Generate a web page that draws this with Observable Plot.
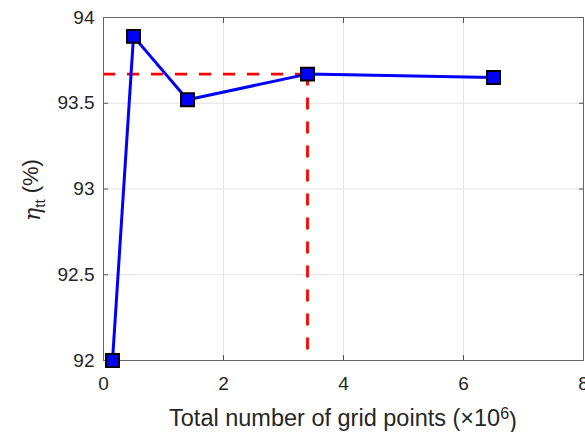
<!DOCTYPE html>
<html>
<head>
<meta charset="utf-8">
<script src="https://cdn.jsdelivr.net/npm/d3@7"></script>
<script src="https://cdn.jsdelivr.net/npm/@observablehq/plot@0.6"></script>
<style>
  html, body { margin: 0; padding: 0; background: #fff; }
  #chart { width: 585px; height: 432px; }
  svg { font-family: "Liberation Sans", Arial, Helvetica, sans-serif; }
</style>
</head>
<body>
<div id="chart"></div>
<script>
// Data
const gridPoints = [0.15, 0.5, 1.4, 3.4, 6.5];          // ×10^6
const efficiency = [92.0, 93.89, 93.52, 93.67, 93.65];   // eta_tt (%)
const xTicks = [0, 2, 4, 6, 8];
const yTicks = [92, 92.5, 93, 93.5, 94];
const yTickLabels = ["92", "92.5", "93", "93.5", "94"];
const selectedX = 3.4;
const selectedY = 93.67;

const data = gridPoints.map((x, i) => ({x, y: efficiency[i]}));
const textColor = "#262626";

const W = 585, H = 432;
const mL = 103, mR = 2, mT = 17, mB = 72;

const plot = Plot.plot({
  width: W,
  height: H,
  marginLeft: mL,
  marginRight: mR,
  marginTop: mT,
  marginBottom: mB,
  style: {fontSize: "19px", color: textColor, fontFamily: "'Liberation Sans', Arial, Helvetica, sans-serif", background: "#fff", overflow: "visible"},
  x: {domain: [0, 8]},
  y: {domain: [92, 94]},
  marks: [
    Plot.gridX(xTicks, {stroke: "#e3e3e3", strokeOpacity: 1, strokeWidth: 1}),
    Plot.gridY(yTicks, {stroke: "#e3e3e3", strokeOpacity: 1, strokeWidth: 1}),
    // tick labels
    Plot.axisX(xTicks, {anchor: "bottom", tickSize: 0, tickPadding: 16, fill: textColor, label: null, tickFormat: d => String(d)}),
    Plot.axisY(yTicks, {anchor: "left", tickSize: 0, tickPadding: 9, fill: textColor, label: null, tickFormat: (d, i) => yTickLabels[i]}),
    // inward tick marks on all four sides
    Plot.axisX(xTicks, {anchor: "bottom", tickSize: -5, tickFormat: () => "", label: null, stroke: "#555"}),
    Plot.axisX(xTicks, {anchor: "top", tickSize: -5, tickFormat: () => "", label: null, stroke: "#555"}),
    Plot.axisY(yTicks, {anchor: "left", tickSize: -5, tickFormat: () => "", label: null, stroke: "#555"}),
    Plot.axisY(yTicks, {anchor: "right", tickSize: -5, tickFormat: () => "", label: null, stroke: "#555"}),
    // red dashed reference lines
    Plot.ruleY([selectedY], {x1: 0, x2: selectedX, stroke: "#ff0000", strokeWidth: 2.8, strokeDasharray: "12,12"}),
    Plot.ruleX([selectedX], {y1: selectedY, y2: 92, stroke: "#ff0000", strokeWidth: 2.8, strokeDasharray: "12,12"}),
    Plot.frame({stroke: "#666", strokeWidth: 1}),
    Plot.line(data, {x: "x", y: "y", stroke: "#0000ff", strokeWidth: 3}),
    Plot.dot(data, {x: "x", y: "y", symbol: "square", r: 7.3, fill: "#0000ff", stroke: "#000", strokeWidth: 2})
  ]
});

const svg = d3.select(plot);

// x-axis label
const xl = svg.append("text")
  .attr("x", mL + (W - mL - mR) / 2)
  .attr("y", 426)
  .attr("text-anchor", "middle")
  .attr("fill", textColor)
  .style("font-size", "23.5px");
xl.append("tspan").text("Total number of grid points (×10");
xl.append("tspan").attr("dy", "-0.45em").style("font-size", "16px").text("6");
xl.append("tspan").attr("dy", "0.45em").text(")");

// y-axis label
const yl = svg.append("text")
  .attr("transform", `translate(40, ${190}) rotate(-90)`)
  .attr("text-anchor", "middle")
  .attr("fill", textColor)
  .style("font-size", "22px");
yl.append("tspan").style("font-style", "italic").style("font-family", "'DejaVu Serif', serif").text("η");
yl.append("tspan").attr("dy", "0.3em").style("font-size", "15px").text("tt");
yl.append("tspan").attr("dy", "-0.3em").text(" (%)");

document.getElementById("chart").appendChild(plot);
</script>
</body>
</html>
